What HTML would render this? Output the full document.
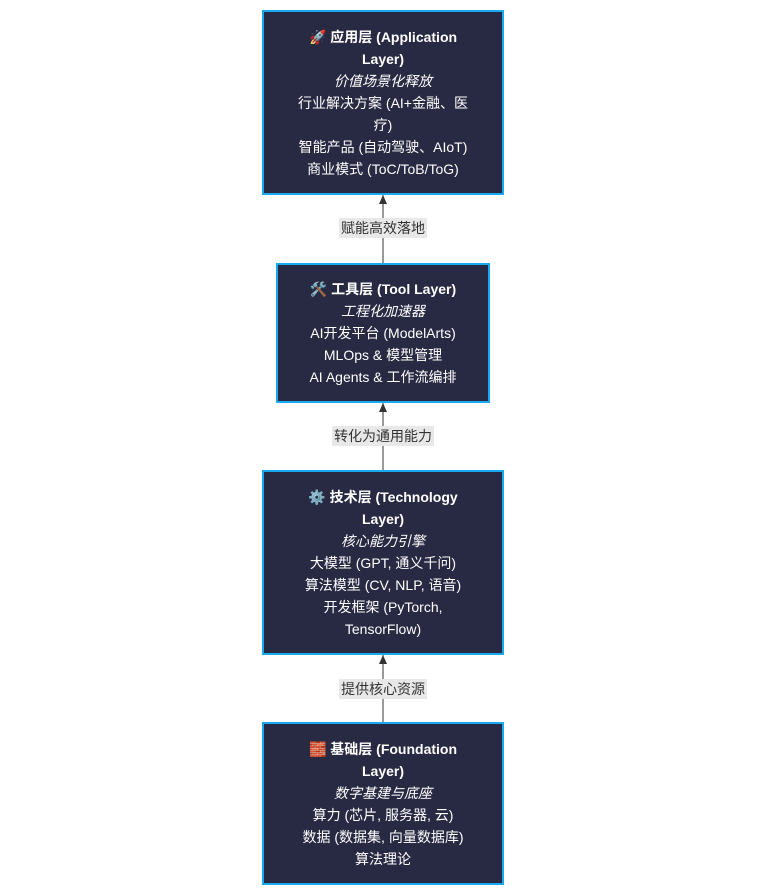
<!DOCTYPE html>
<html><head><meta charset="utf-8"><style>
body{margin:0;width:760px;height:893px;background:#fff;position:relative;font-family:"Liberation Sans","Noto Sans CJK SC",sans-serif;}
.box{position:absolute;background:#282942;border:2px solid #18aaf0;box-sizing:border-box;color:#fff;font-size:14px;line-height:22px;text-align:center;display:flex;flex-direction:column;justify-content:center;padding:0 26px;}
.box b{font-weight:bold}
.box i{font-style:italic}
.lbl{position:absolute;background:#e8e8e8;color:#333;font-size:14px;line-height:20px;padding:0 2px;transform:translateX(-50%);left:383px;white-space:nowrap}
</style></head><body>
<svg width="760" height="893" style="position:absolute;left:0;top:0">
<defs><marker id="a" markerUnits="userSpaceOnUse" markerWidth="10" markerHeight="10" refX="9" refY="5" orient="auto"><path d="M0,1L9,5L0,9z" fill="#333"/></marker></defs>
<line x1="383" y1="263" x2="383" y2="195" stroke="#555" stroke-width="1.2" marker-end="url(#a)"/>
<line x1="383" y1="470" x2="383" y2="403" stroke="#555" stroke-width="1.2" marker-end="url(#a)"/>
<line x1="383" y1="722" x2="383" y2="655" stroke="#555" stroke-width="1.2" marker-end="url(#a)"/>
</svg>
<div class="box" style="left:262px;top:10px;width:242px;height:185px">
<div><b>🚀 应用层 (Application Layer)</b></div><div><i>价值场景化释放</i></div><div>行业解决方案 (AI+金融、医疗)</div><div>智能产品 (自动驾驶、AIoT)</div><div>商业模式 (ToC/ToB/ToG)</div></div>
<div class="lbl" style="top:218px">赋能高效落地</div>
<div class="box" style="left:276px;top:263px;width:214px;height:140px">
<div><b>🛠️ 工具层 (Tool Layer)</b></div><div><i>工程化加速器</i></div><div>AI开发平台 (ModelArts)</div><div>MLOps &amp; 模型管理</div><div>AI Agents &amp; 工作流编排</div></div>
<div class="lbl" style="top:426px">转化为通用能力</div>
<div class="box" style="left:262px;top:470px;width:242px;height:185px">
<div><b>⚙️ 技术层 (Technology Layer)</b></div><div><i>核心能力引擎</i></div><div>大模型 (GPT, 通义千问)</div><div>算法模型 (CV, NLP, 语音)</div><div>开发框架 (PyTorch, TensorFlow)</div></div>
<div class="lbl" style="top:679px">提供核心资源</div>
<div class="box" style="left:262px;top:722px;width:242px;height:163px">
<div><b>🧱 基础层 (Foundation Layer)</b></div><div><i>数字基建与底座</i></div><div>算力 (芯片, 服务器, 云)</div><div>数据 (数据集, 向量数据库)</div><div>算法理论</div></div>
</body></html>
